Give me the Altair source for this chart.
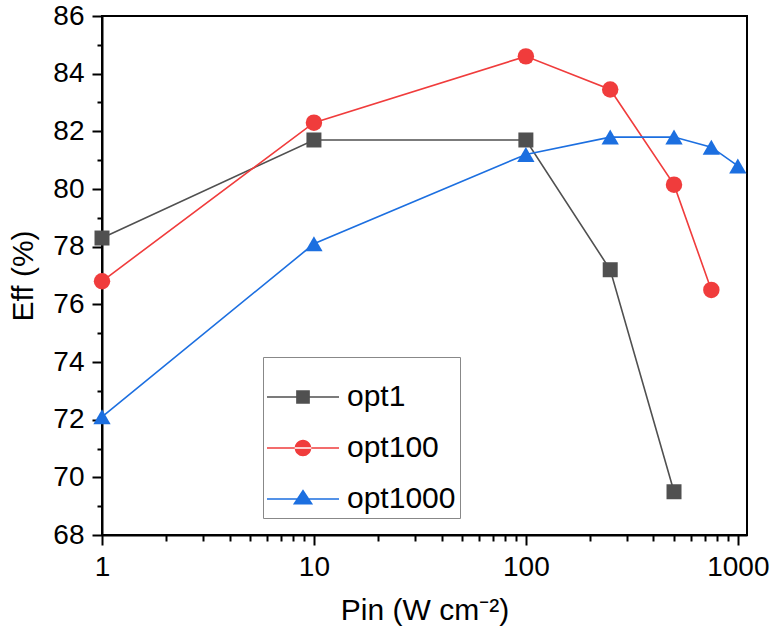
import altair as alt
import pandas as pd

# ---- data ----
series_names = ["opt1", "opt100", "opt1000"]
colors = ["#505050", "#f03c3c", "#1c6fe0"]

opt1_x = [1, 10, 100, 250, 500]
opt1_y = [78.3, 81.7, 81.7, 77.2, 69.5]

opt100_x = [1, 10, 100, 250, 500, 750]
opt100_y = [76.8, 82.3, 84.6, 83.45, 80.15, 76.5]

opt1000_x = [1, 10, 100, 250, 500, 750, 1000]
opt1000_y = [72.1, 78.1, 81.2, 81.8, 81.8, 81.45, 80.8]

x_ticks = [1, 2, 3, 4, 5, 6, 7, 8, 9, 10, 20, 30, 40, 50, 60, 70, 80, 90,
           100, 200, 300, 400, 500, 600, 700, 800, 900, 1000]
y_ticks = [68, 69, 70, 71, 72, 73, 74, 75, 76, 77, 78, 79, 80, 81, 82, 83, 84, 85, 86]

rows = []
for name, xs, ys in [("opt1", opt1_x, opt1_y), ("opt100", opt100_x, opt100_y),
                     ("opt1000", opt1000_x, opt1000_y)]:
    for xv, yv in zip(xs, ys):
        rows.append({"series": name, "pin": xv, "eff": yv})
df = pd.DataFrame(rows)

FONT = "Liberation Sans"
xscale = alt.Scale(type="log", domain=[1, 1105], nice=False)
yscale = alt.Scale(domain=[68, 86], nice=False, zero=False)

x_major_test = "datum.value == 1 || datum.value == 10 || datum.value == 100 || datum.value == 1000"
y_major_test = "datum.value % 2 == 0"

ax_common = dict(domainColor="black", domainWidth=2, tickColor="black", tickWidth=2,
                 labelFont=FONT, labelFontSize=28, labelColor="black",
                 titleFont=FONT, titleFontSize=30, titleColor="black",
                 titleFontWeight="normal", grid=False, labelOverlap=False)

x_axis = alt.Axis(values=x_ticks, format="d",
                  tickSize=alt.condition(x_major_test, alt.value(10), alt.value(6)),
                  labelExpr="(" + x_major_test + ") ? datum.label : ''",
                  labelPadding=8, title="Pin (W cm⁻²)", titlePadding=14,
                  orient="bottom", labelFlush=False, **ax_common)
y_axis = alt.Axis(values=y_ticks, format="d",
                  tickSize=alt.condition(y_major_test, alt.value(10), alt.value(5)),
                  labelExpr="(" + y_major_test + ") ? datum.label : ''",
                  labelPadding=8, title="Eff (%)", titlePadding=14,
                  orient="left", **ax_common)

base = alt.Chart(df)
X = alt.X("pin:Q", scale=xscale, axis=x_axis)
Y = alt.Y("eff:Q", scale=yscale, axis=y_axis)

# legend glyphs: a thin filled bar (the line) plus the marker, in [-1,1] units
BAR = "M-1,-0.022H1V0.022H-1Z"
legend_paths = [
    BAR + "M-0.19,-0.19H0.19V0.19H-0.19Z",
    BAR + "M-0.23,0A0.23,0.23 0 1,0 0.23,0A0.23,0.23 0 1,0 -0.23,0Z",
    BAR + "M0,-0.27L0.28,0.15L-0.28,0.15Z",
]
leg = alt.Legend(title=None, orient="none", legendX=161, legendY=341,
                 symbolSize=5184, symbolStrokeWidth=0, symbolOpacity=1,
                 labelFont=FONT, labelFontSize=30, labelColor="black", labelOffset=8,
                 strokeColor="#888888", padding=4, rowPadding=-10)
legend_layer = base.mark_point(filled=True).encode(
    x=X, y=Y,
    color=alt.Color("series:N", scale=alt.Scale(domain=series_names, range=colors), legend=leg),
    shape=alt.Shape("series:N", scale=alt.Scale(domain=series_names, range=legend_paths), legend=leg),
).transform_filter("false")

shapes = {"opt1": ("square", 225), "opt100": ("circle", 270), "opt1000": ("triangle-up", 300)}
line_layers = []
point_layers = []
for name, col in zip(series_names, colors):
    shp, sz = shapes[name]
    sub = base.transform_filter(alt.datum.series == name)
    line_layers.append(
        sub.mark_line(strokeWidth=1.6, color=col).encode(x=X, y=Y, order="pin:Q")
    )
    point_layers.append(
        sub.mark_point(filled=True, shape=shp, size=sz, color=col, opacity=1).encode(x=X, y=Y)
    )

chart = alt.layer(*line_layers, *point_layers, legend_layer).properties(
    width=645, height=519,
    padding={"left": 102, "top": 16, "right": 26, "bottom": 104},
    autosize=alt.AutoSizeParams(type="none"),
).configure_view(stroke="black", strokeWidth=2)

chart.save("out.html", embed_options={"renderer": "svg", "actions": False})
